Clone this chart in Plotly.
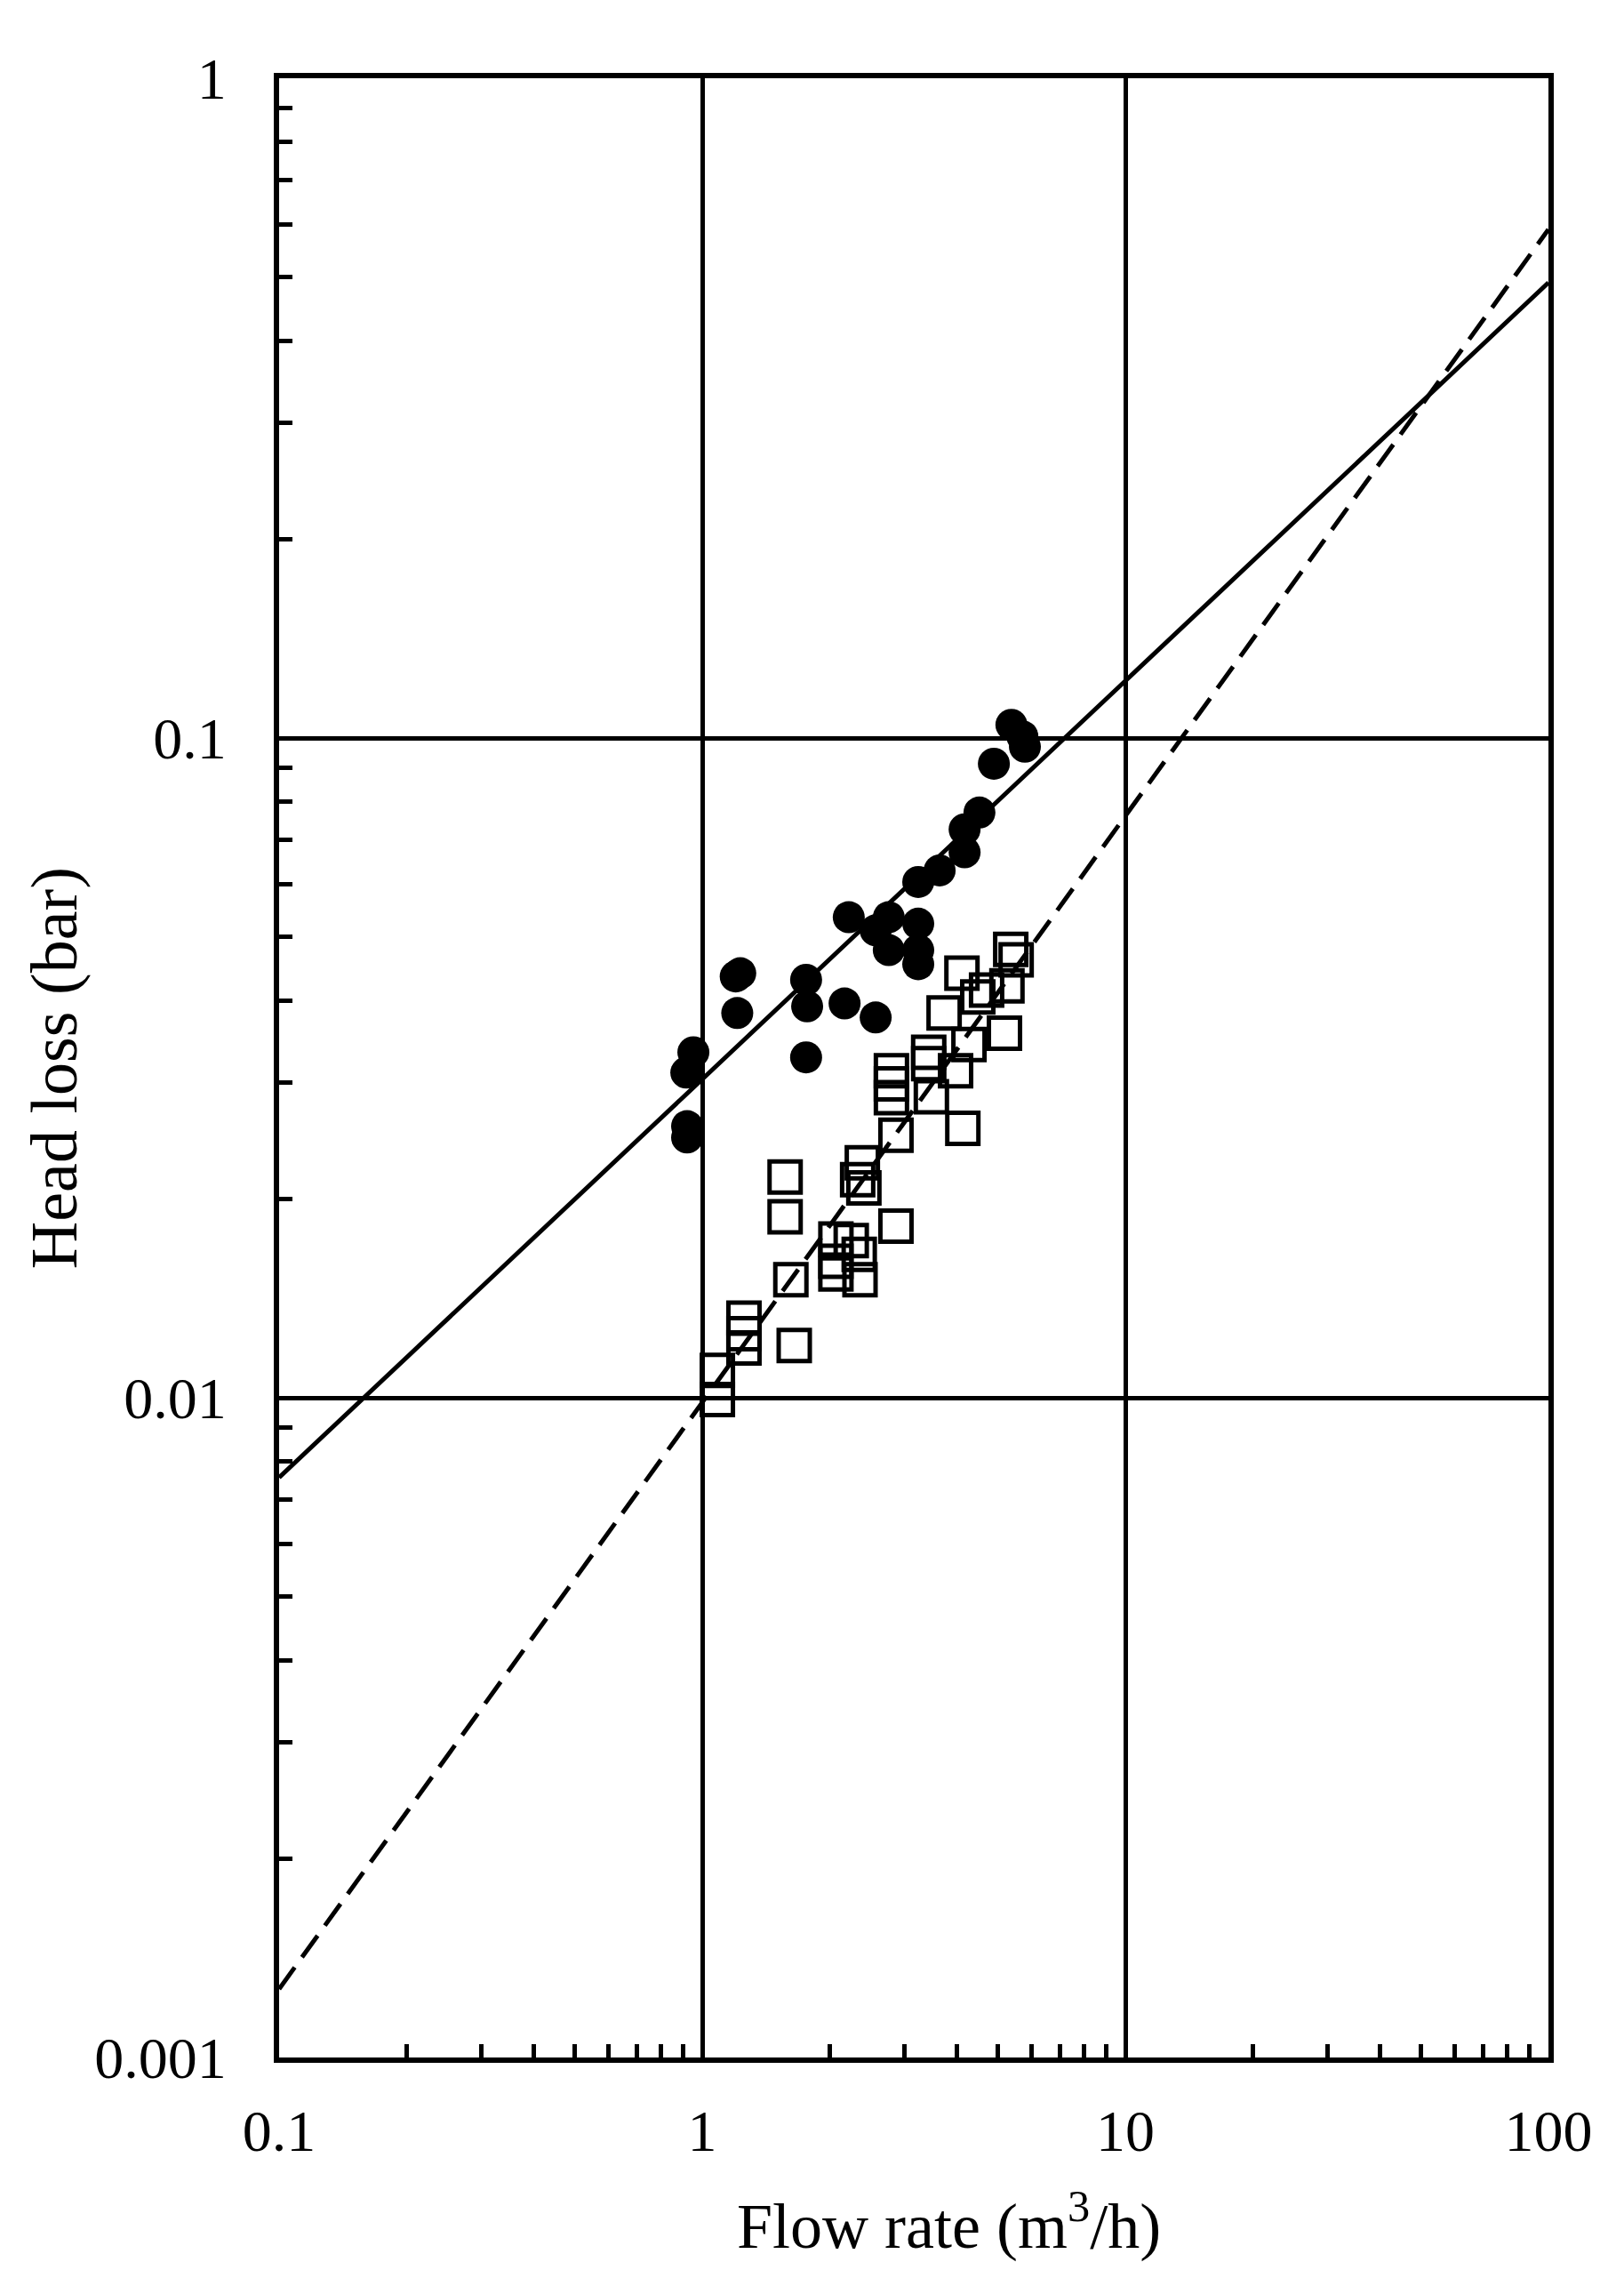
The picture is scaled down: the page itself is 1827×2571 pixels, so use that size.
import plotly.graph_objects as go

# filled circles
circle_x = [5.38, 5.71, 5.79, 4.89, 4.52, 4.17, 4.17, 3.64, 3.24, 3.24, 3.24, 3.24,
            2.76, 2.57, 2.76, 2.22, 2.17, 2.57, 1.76, 1.77, 1.76, 1.20, 1.23, 1.21,
            0.953, 0.917, 0.921, 0.921]
circle_y = [0.1047, 0.1006, 0.0970, 0.0914, 0.0771, 0.0727, 0.0671, 0.0630, 0.0605,
            0.0523, 0.0477, 0.0454, 0.0535, 0.0511, 0.0477, 0.0535, 0.0396, 0.0377,
            0.0430, 0.0392, 0.0328, 0.0435, 0.0440, 0.0383, 0.0334, 0.0311, 0.0258,
            0.0248]

# open squares
square_x = [5.36, 5.52, 5.25, 4.70, 4.48, 4.11, 3.73, 5.18, 4.27, 3.43, 3.43, 3.97,
            2.80, 2.80, 2.80, 3.48, 4.13, 2.87, 2.39, 2.33, 2.41, 1.57, 1.57, 2.87,
            2.07, 2.25, 2.07, 2.35, 2.07, 2.36, 1.62, 1.255, 1.255, 1.255, 1.65,
            1.086, 1.086]
square_y = [0.0478, 0.0461, 0.0421, 0.0415, 0.0405, 0.0440, 0.0383, 0.0357, 0.0343,
            0.0334, 0.0321, 0.0313, 0.0313, 0.0299, 0.0285, 0.0286, 0.0256, 0.0250,
            0.0227, 0.0214, 0.0208, 0.0216, 0.0188, 0.0182, 0.0174, 0.0173, 0.0161,
            0.0165, 0.0154, 0.0151, 0.0151, 0.0132, 0.0125, 0.0119, 0.0120, 0.0110,
            0.00994]

# fitted lines (end points)
solid_x = [0.1, 100]
solid_y = [0.00757, 0.490]
dash_x = [0.1, 100]
dash_y = [0.00127, 0.590]

x_ticks = [0.1, 1, 10, 100]
x_labels = ["0.1", "1", "10", "100"]
y_ticks = [0.001, 0.01, 0.1, 1]
y_labels = ["0.001", "0.01", "0.1", "1"]

minor_x = [m * d for d in (0.1, 1, 10) for m in range(2, 10)]
minor_y = [m * d for d in (0.001, 0.01, 0.1) for m in range(2, 10)]

FONT = "Liberation Serif, Times New Roman, serif"

fig = go.Figure()

fig.add_trace(go.Scatter(x=solid_x, y=solid_y, mode="lines",
                         line=dict(color="black", width=5)))
fig.add_trace(go.Scatter(x=dash_x, y=dash_y, mode="lines",
                         line=dict(color="black", width=5, dash="30px,14px")))
fig.add_trace(go.Scatter(x=square_x, y=square_y, mode="markers",
                         marker=dict(symbol="square-open", size=35, color="black",
                                     line=dict(width=5, color="black"))))
fig.add_trace(go.Scatter(x=circle_x, y=circle_y, mode="markers",
                         marker=dict(symbol="circle", size=36, color="black",
                                     line=dict(width=0))))

axis_common = dict(
    showline=True, linecolor="black", linewidth=6, mirror=True,
    showgrid=True, gridcolor="black", gridwidth=5,
    zeroline=False, ticks="", tickmode="array",
    tickfont=dict(family=FONT, size=66, color="black"),
)

fig.update_xaxes(type="log", range=[-1, 2], tickvals=x_ticks, ticktext=x_labels,
                 ticklabelstandoff=20,
                 minor=dict(ticks="inside", ticklen=15, tickwidth=5, tickcolor="black",
                            tickmode="array", tickvals=minor_x, showgrid=False),
                 **axis_common)
fig.update_yaxes(type="log", range=[-3, 0], tickvals=y_ticks, ticktext=y_labels,
                 ticklabelstandoff=40,
                 minor=dict(ticks="inside", ticklen=15, tickwidth=5, tickcolor="black",
                            tickmode="array", tickvals=minor_y, showgrid=False),
                 **axis_common)

fig.add_annotation(text="Flow rate (m<sup>3</sup>/h)", xref="paper", yref="paper",
                   x=0.528, y=-0.083, xanchor="center", yanchor="middle",
                   showarrow=False, font=dict(family=FONT, size=72, color="black"))
fig.add_annotation(text="Head loss (bar)", xref="paper", yref="paper",
                   x=-0.177, y=0.5, xanchor="center", yanchor="middle", textangle=-90,
                   showarrow=False, font=dict(family=FONT, size=74, color="black"))

# the page body adds an 8px margin, so the figure is 16px smaller each way
fig.update_layout(
    width=1811, height=2555, autosize=False,
    margin=dict(l=306, r=77, t=80, b=249),
    paper_bgcolor="white", plot_bgcolor="white",
    showlegend=False,
)

fig.write_html("out.html")
